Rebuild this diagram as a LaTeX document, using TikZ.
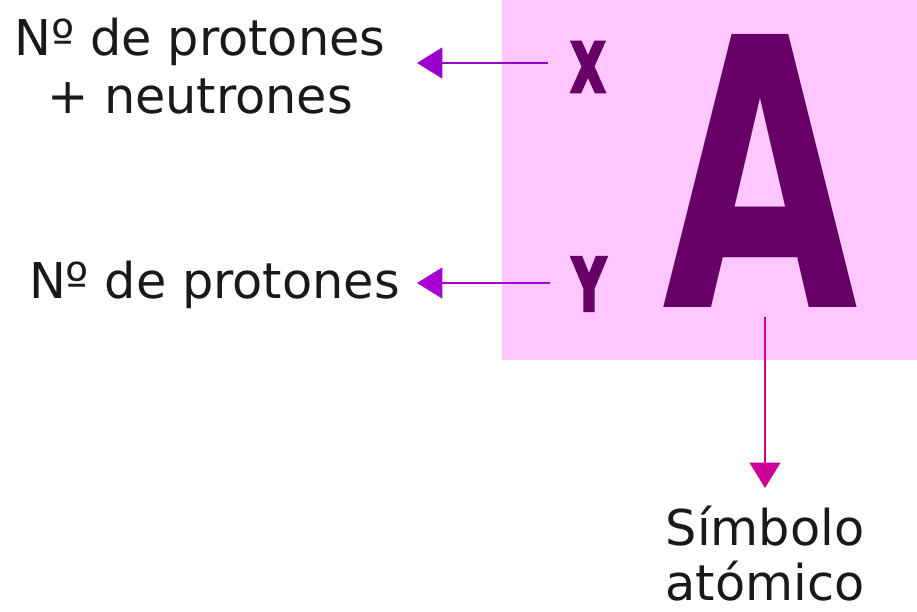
\documentclass[tikz,border=0pt]{standalone}
\usepackage{fontspec}
\setmainfont{DejaVu Sans}
\newfontfamily\bigletter{DejaVu Sans Condensed Bold}
\font\smallsymfont="DejaVu Sans Condensed Bold:embolden=5" at 53pt
\usetikzlibrary{arrows.meta}
\definecolor{boxpink}{HTML}{FFC6FF}
\definecolor{letterpurple}{HTML}{660066}
\definecolor{arrowviolet}{HTML}{9900CC}
\definecolor{arrowmagenta}{HTML}{CC0099}
\begin{document}
\begin{tikzpicture}[x=0.75pt,y=-0.75pt,
  lbl/.style={inner sep=0pt,align=center,text=black!90,
    font=\fontsize{37}{43}\selectfont},
  sym/.style={inner sep=0pt,text=letterpurple},
  arr/.style={line width=2pt,-{Triangle[length=19pt,width=23pt]}}]
  \useasboundingbox (0,0) rectangle (917,611);
  % Box
  \fill[boxpink] (502,0) rectangle (917,360);
  % Letters
  \node[sym] (massnum) at (588,67) {\scalebox{0.7}[0.96]{\smallsymfont X}};
  \node[sym] (atomnum) at (589,284) {\scalebox{0.72}[1.02]{\smallsymfont Y}};
  \node[sym] (symbol) at (760,171) {\scalebox{0.75}[1]{\fontsize{281}{281}\bigletter A}};
  % Labels
  \node[lbl,anchor=north] (masslbl) at (200,18) {Nº de protones\\+ neutrones};
  \node[lbl,anchor=base east] (atomlbl) at (400,298) {Nº de protones};
  \node[lbl,anchor=north,font=\fontsize{37}{41}\selectfont] (symlbl) at (765,506) {Símbolo\\atómico};
  % Arrow tips
  \coordinate (masstip) at (417,63);
  \coordinate (atomtip) at (417,283);
  \coordinate (symtip) at (765,488);
  % Arrows
  \draw[arr,arrowviolet,shorten <=17pt] (massnum.west |- masstip) -- (masstip);
  \draw[arr,arrowviolet!85!magenta,shorten <=17pt] (atomnum.west |- atomtip) -- (atomtip);
  \draw[arr,arrowmagenta,line width=1.5pt,shorten <=7pt] (symbol.south -| symtip) -- (symtip);
\end{tikzpicture}
\end{document}
